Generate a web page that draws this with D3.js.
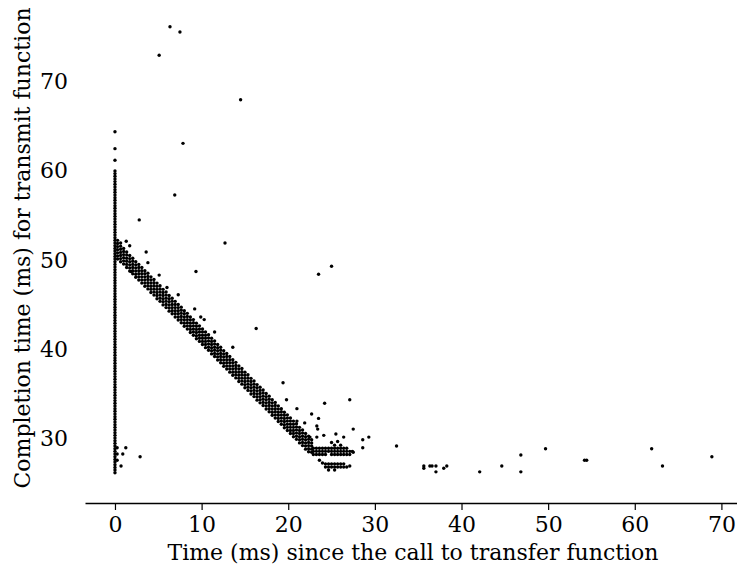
<!DOCTYPE html>
<html>
<head>
<meta charset="utf-8">
<script src="https://cdn.jsdelivr.net/npm/d3@7"></script>
<style>
  body { margin: 0; background: #fff; }
  svg { display: block; }
</style>
</head>
<body>
<div id="chart"></div>
<script>
// ticks
const xTicks = [0, 10, 20, 30, 40, 50, 60, 70];
const yTicks = [30, 40, 50, 60, 70];

// column of samples at zero delay (y values, ms)
const zeroColumnY = [26.1,26.4,26.7,27.0,27.3,27.6,27.9,28.2,28.5,28.8,29.1,29.4,29.7,30.0,30.3,30.6,30.9,31.2,31.5,31.8,
  32.1,32.4,32.7,33.0,33.3,33.6,33.9,34.2,34.5,34.8,35.1,35.4,35.7,36.0,36.3,36.6,36.9,37.2,37.5,37.8,38.1,38.4,38.7,39.0,
  39.3,39.6,39.9,40.2,40.5,40.8,41.1,41.4,41.7,42.0,42.3,42.6,42.9,43.2,43.5,43.8,44.1,44.4,44.7,45.0,45.3,45.6,45.9,46.2,
  46.5,46.8,47.1,47.4,47.7,48.0,48.3,48.6,48.9,49.2,49.5,49.8,50.1,50.4,50.7,51.0,51.3,51.6,51.9,52.2,52.5,52.8,53.1,53.4,
  53.7,54.0,54.3,54.6,54.9,55.2,55.5,55.8,56.1,56.4,56.7,57.0,57.3,57.6,57.9,58.2,58.5,58.8,59.1,59.4,59.7,60.0,
  61.2,62.5,64.4];

// diagonal band: [delay, [completion times...]]
const bandColumns = [
  [0.3, [52.2,51.85,51.5,51.15,50.8,50.45,50.1]],
  [0.65, [51.9,51.55,51.2,50.85,50.5,50.15,49.8]],
  [1.0, [51.3,50.95,50.6,50.25,49.9,49.55]],
  [1.35, [50.9,50.55,50.2,49.85,49.5,49.15]],
  [1.7, [50.5,50.15,49.8,49.45,49.1,48.75]],
  [2.05, [50.2,49.85,49.5,49.15,48.8,48.45]],
  [2.4, [49.8,49.45,49.1,48.75,48.4,48.05]],
  [2.75, [49.5,49.15,48.8,48.45,48.1,47.75]],
  [3.1, [49.15,48.8,48.45,48.1,47.75,47.4]],
  [3.45, [48.8,48.45,48.1,47.75,47.4,47.05]],
  [3.8, [48.5,48.15,47.8,47.45,47.1,46.75]],
  [4.15, [48.1,47.75,47.4,47.05,46.7,46.35]],
  [4.5, [47.8,47.45,47.1,46.75,46.4,46.05]],
  [4.85, [47.4,47.05,46.7,46.35,46.0,45.65]],
  [5.2, [47.1,46.75,46.4,46.05,45.7,45.35]],
  [5.55, [46.7,46.35,46.0,45.65,45.3,44.95]],
  [5.9, [46.4,46.05,45.7,45.35,45.0,44.65]],
  [6.25, [46.0,45.65,45.3,44.95,44.6,44.25]],
  [6.6, [45.7,45.35,45.0,44.65,44.3,43.95]],
  [6.95, [45.35,45.0,44.65,44.3,43.95,43.6]],
  [7.3, [45.0,44.65,44.3,43.95,43.6,43.25]],
  [7.65, [44.7,44.35,44.0,43.65,43.3,42.95]],
  [8.0, [44.3,43.95,43.6,43.25,42.9,42.55]],
  [8.35, [44.0,43.65,43.3,42.95,42.6,42.25]],
  [8.7, [43.6,43.25,42.9,42.55,42.2,41.85]],
  [9.05, [43.3,42.95,42.6,42.25,41.9,41.55]],
  [9.4, [42.9,42.55,42.2,41.85,41.5,41.15]],
  [9.75, [42.6,42.25,41.9,41.55,41.2,40.85]],
  [10.1, [42.25,41.9,41.55,41.2,40.85,40.5]],
  [10.45, [41.9,41.55,41.2,40.85,40.5,40.15]],
  [10.8, [41.6,41.25,40.9,40.55,40.2,39.85]],
  [11.15, [41.2,40.85,40.5,40.15,39.8,39.45]],
  [11.5, [40.9,40.55,40.2,39.85,39.5,39.15]],
  [11.85, [40.5,40.15,39.8,39.45,39.1,38.75]],
  [12.2, [40.2,39.85,39.5,39.15,38.8,38.45]],
  [12.55, [39.8,39.45,39.1,38.75,38.4,38.05]],
  [12.9, [39.5,39.15,38.8,38.45,38.1,37.75]],
  [13.25, [39.15,38.8,38.45,38.1,37.75,37.4]],
  [13.6, [38.8,38.45,38.1,37.75,37.4,37.05]],
  [13.95, [38.5,38.15,37.8,37.45,37.1,36.75]],
  [14.3, [38.1,37.75,37.4,37.05,36.7,36.35]],
  [14.65, [37.8,37.45,37.1,36.75,36.4,36.05]],
  [15.0, [37.4,37.05,36.7,36.35,36.0,35.65]],
  [15.35, [37.1,36.75,36.4,36.05,35.7,35.35]],
  [15.7, [36.7,36.35,36.0,35.65,35.3,34.95]],
  [16.05, [36.4,36.05,35.7,35.35,35.0,34.65]],
  [16.4, [36.0,35.65,35.3,34.95,34.6,34.25]],
  [16.75, [35.7,35.35,35.0,34.65,34.3,33.95]],
  [17.1, [35.4,35.05,34.7,34.35,34.0,33.65]],
  [17.45, [35.0,34.65,34.3,33.95,33.6,33.25]],
  [17.8, [34.7,34.35,34.0,33.65,33.3,32.95]],
  [18.15, [34.3,33.95,33.6,33.25,32.9,32.55]],
  [18.5, [34.0,33.65,33.3,32.95,32.6,32.25]],
  [18.85, [33.6,33.25,32.9,32.55,32.2,31.85]],
  [19.2, [33.3,32.95,32.6,32.25,31.9,31.55]],
  [19.55, [32.9,32.55,32.2,31.85,31.5,31.15]],
  [19.9, [32.6,32.25,31.9,31.55,31.2,30.85]],
  [20.25, [32.25,31.9,31.55,31.2,30.85,30.5]],
  [20.6, [31.9,31.55,31.2,30.85,30.5,30.15]],
  [20.95, [31.6,31.25,30.9,30.55,30.2,29.85]],
  [21.3, [31.2,30.85,30.5,30.15,29.8,29.45]],
  [21.65, [30.9,30.55,30.2,29.85,29.5,29.15]],
  [22.0, [30.5,30.15,29.8,29.45,29.1,28.75]],
  [22.35, [30.2,29.85,29.5,29.15,28.8,28.45]],
  [22.7, [29.8,29.45,29.1,28.75,28.4]]
];

// flat clusters where the band ends
const tailColumns = [
  [22.9, [28.85,28.5,28.15]], [23.25, [28.85,28.5,28.15]], [23.6, [28.85,28.5,28.15,27.5]],
  [23.95, [28.85,28.5,28.15,27.2]], [24.3, [28.85,28.5,28.15,27.1,26.75]], [24.65, [28.85,28.5,27.1,26.75,26.4]],
  [25.0, [29.5,28.85,28.5,28.15,27.1,26.75]], [25.35, [29.2,28.85,28.5,28.15,27.1,26.75,26.4]],
  [25.7, [29.6,28.85,28.5,28.15,27.1,26.75]], [26.05, [29.2,28.85,28.5,28.15,27.1,26.75]],
  [26.4, [28.85,28.5,28.15,27.1,26.75]], [26.75, [28.85,28.5,28.15,26.75]], [27.1, [28.5,28.15,26.85]],
  [27.4, [28.5]]
];

// scattered samples: [delay, completion]
const outliers = [
  [6.35,76.2],[7.5,75.6],[5.1,73.0],[14.5,68.0],[7.85,63.1],[6.9,57.3],[2.8,54.5],[12.7,51.9],
  [9.35,48.7],[23.5,48.4],[25.0,49.3],[16.3,42.3],
  [0.25,28.9],[1.25,28.9],[0.25,28.2],[0.9,28.2],[2.9,27.9],[0.25,27.5],[0.7,26.85],
  [1.3,52.1],[1.7,51.6],[3.6,50.9],[1.85,48.7],[3.8,49.7],[5.1,48.3],[6.0,46.9],[7.3,46.1],
  [9.2,44.5],[9.9,43.6],[10.3,43.3],[11.5,41.9],[13.6,40.2],
  [19.4,36.2],[19.8,34.3],[21.0,33.3],[24.2,33.9],[27.1,34.3],[22.7,32.7],[23.5,32.2],[21.0,31.9],
  [21.9,31.7],[23.3,31.35],[27.5,31.0],[23.4,31.0],[22.5,30.1],[23.3,30.1],[24.1,30.3],[25.5,30.45],
  [26.4,30.1],[28.6,29.8],[29.3,30.1],[28.6,28.9],[27.5,28.4],[32.5,29.1],
  [35.65,26.85],[35.65,26.6],[36.35,26.85],[36.6,26.85],[37.05,26.85],[37.05,26.2],[37.95,26.6],
  [38.3,26.85],[42.1,26.2],[44.65,26.85],[46.85,28.1],[46.85,26.2],[49.7,28.8],[54.2,27.5],
  [54.45,27.5],[61.95,28.8],[63.2,26.85],[68.9,27.9]
];

const width = 737, height = 568;
const font = "'DejaVu Serif', serif";

const svg = d3.select("#chart").append("svg")
  .attr("width", width)
  .attr("height", height)
  .style("font-family", font);

const x = d3.scaleLinear().domain([-3.46, 71.8]).range([85, 737]);
const y = d3.scaleLinear().domain([22.7, 79.2]).range([503, 0]);

// flatten everything into one list of points
const points = [];
zeroColumnY.forEach(v => points.push([0, v]));
bandColumns.concat(tailColumns).forEach(([t, ys]) => ys.forEach(v => points.push([t, v])));
outliers.forEach(p => points.push(p));

svg.append("g")
  .selectAll("circle")
  .data(points)
  .join("circle")
  .attr("cx", d => x(d[0]))
  .attr("cy", d => y(d[1]))
  .attr("r", 1.7)
  .attr("fill", "black");

// x axis
const xAxis = svg.append("g")
  .attr("transform", `translate(0, ${y(22.7)})`)
  .call(d3.axisBottom(x).tickValues(xTicks).tickSize(7).tickSizeOuter(0).tickPadding(6));
xAxis.select(".domain").attr("stroke-width", 1.4);
xAxis.selectAll(".tick line").attr("stroke-width", 1.2);
xAxis.selectAll("text").style("font-size", "22px").style("font-family", font).attr("fill", "black");

// y axis: labels only
const yAxis = svg.append("g")
  .attr("transform", "translate(71, 0)")
  .call(d3.axisLeft(y).tickValues(yTicks).tickSize(0).tickPadding(3));
yAxis.select(".domain").remove();
yAxis.selectAll("text").style("font-size", "22px").style("font-family", font).attr("fill", "black");

svg.append("text")
  .attr("x", 413)
  .attr("y", 560)
  .attr("text-anchor", "middle")
  .style("font-size", "22px")
  .text("Time (ms) since the call to transfer function");

svg.append("text")
  .attr("transform", "translate(30, 248) rotate(-90)")
  .attr("text-anchor", "middle")
  .style("font-size", "22px")
  .text("Completion time (ms) for transmit function");
</script>
</body>
</html>
